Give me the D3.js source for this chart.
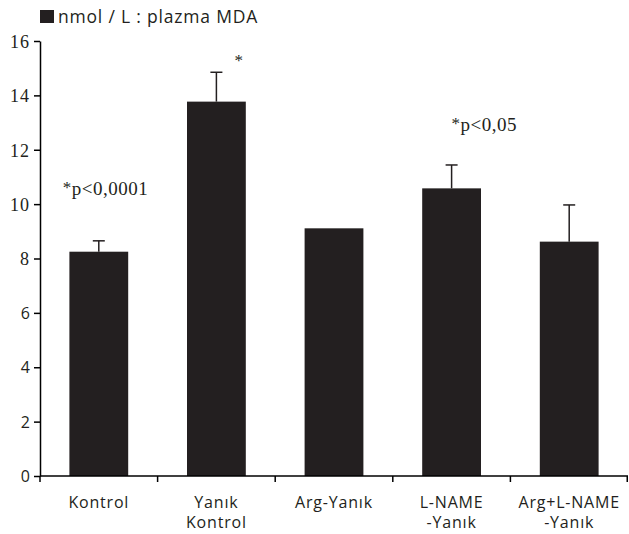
<!DOCTYPE html>
<html>
<head>
<meta charset="utf-8">
<script src="https://cdn.jsdelivr.net/npm/d3@7"></script>
<style>
  body { margin: 0; background: #fff; }
  .sans { font-family: "Open Sans", "Lato", sans-serif; }
  .serif { font-family: "Liberation Serif", "DejaVu Serif", serif; }
</style>
</head>
<body>
<div class="vis-barchart"></div>
<script>
// data
const categories = [["Kontrol"], ["Yanık", "Kontrol"], ["Arg-Yanık"], ["L-NAME", "-Yanık"], ["Arg+L-NAME", "-Yanık"]];
const values = [8.25, 13.77, 9.11, 10.58, 8.62];
const errors = [0.40, 1.08, 0, 0.86, 1.35];
const yTicks = [0, 2, 4, 6, 8, 10, 12, 14, 16];
const notes = [
  {cat: 0, value: 10.35, text: "p<0,0001", dx: -36},
  {cat: 1, value: 15.0, text: "", dx: 18},
  {cat: 3, value: 12.7, text: "p<0,05", dx: 0}
];

const width = 629, height = 534;
const margin = {top: 41, right: 1, bottom: 58, left: 40};
const innerWidth = width - margin.left - margin.right;
const innerHeight = height - margin.top - margin.bottom;
const barColor = "#231f20";

const svg = d3.select('.vis-barchart').append('svg')
  .attr('width', width)
  .attr('height', height);

const graph = svg.append('g')
  .attr('transform', `translate(${margin.left}, ${margin.top})`);

const yScale = d3.scaleLinear()
  .domain([0, 16])
  .range([innerHeight, 0]);

const xScale = d3.scaleBand()
  .domain(d3.range(categories.length))
  .range([0, innerWidth])
  .padding(0);

const barW = xScale.bandwidth() * 0.5;
const cx = i => xScale(i) + xScale.bandwidth() / 2;

// bars
graph.selectAll('rect.bar')
  .data(values)
  .enter().append('rect')
  .attr('class', 'bar')
  .attr('x', (d, i) => cx(i) - barW / 2)
  .attr('width', barW)
  .attr('y', d => yScale(d))
  .attr('height', d => innerHeight - yScale(d))
  .attr('fill', barColor);

// error bars (upper only)
const errG = graph.append('g').attr('stroke', barColor).attr('stroke-width', 1.5);
values.forEach((v, i) => {
  if (!errors[i]) return;
  errG.append('line')
    .attr('x1', cx(i)).attr('x2', cx(i))
    .attr('y1', yScale(v)).attr('y2', yScale(v + errors[i]));
  errG.append('line')
    .attr('x1', cx(i) - 6).attr('x2', cx(i) + 6)
    .attr('y1', yScale(v + errors[i])).attr('y2', yScale(v + errors[i]));
});

// y axis
const gYAxis = graph.append('g')
  .call(d3.axisLeft(yScale).tickValues(yTicks).tickSize(6).tickPadding(4).tickSizeOuter(0));
gYAxis.select('.domain').attr('stroke', '#000').attr('stroke-width', 1.5);
gYAxis.selectAll('.tick line').attr('stroke-width', 1.5);
gYAxis.selectAll('.tick text')
  .attr('class', d => d >= 8 ? 'serif' : 'sans')
  .attr('text-anchor', 'end')
  .attr('dy', '0.35em')
  .style('font-size', d => d >= 8 ? '18px' : '16px')
  .style('letter-spacing', d => d >= 8 ? '1px' : '0px')
  .attr('fill', '#231f20');

// x axis with ticks on category boundaries
const gXAxis = graph.append('g')
  .attr('transform', `translate(0, ${innerHeight})`);
gXAxis.append('line')
  .attr('x1', 0).attr('x2', innerWidth)
  .attr('y1', 0).attr('y2', 0)
  .attr('stroke', '#000').attr('stroke-width', 1.5);
d3.range(categories.length + 1).forEach(i => {
  const x = i < categories.length ? xScale(i) : innerWidth - 0.75;
  gXAxis.append('line')
    .attr('x1', x).attr('x2', x)
    .attr('y1', 0).attr('y2', 6)
    .attr('stroke', '#000').attr('stroke-width', 1.5);
});
categories.forEach((lines, i) => {
  lines.forEach((l, j) => {
    gXAxis.append('text')
      .attr('class', 'sans')
      .attr('text-anchor', 'middle')
      .attr('fill', '#231f20')
      .style('font-size', '16px')
      .style('letter-spacing', '0.8px')
      .attr('x', cx(i)).attr('y', 32 + j * 20)
      .text(l);
  });
});

// significance notes
notes.forEach(n => {
  const t = graph.append('text')
    .attr('class', 'serif')
    .attr('x', cx(n.cat) + n.dx)
    .attr('y', yScale(n.value))
    .attr('fill', '#231f20')
    .style('font-size', '19px')
    .style('letter-spacing', '0.5px');
  t.append('tspan').attr('dy', -2).style('font-size', '17px').text('*');
  if (n.text) t.append('tspan').attr('dy', 2).text(n.text);
});

// legend / title
svg.append('rect')
  .attr('x', 40).attr('y', 10)
  .attr('width', 14).attr('height', 13)
  .attr('fill', barColor);
svg.append('text')
  .attr('class', 'sans')
  .attr('x', 58).attr('y', 23)
  .attr('fill', '#231f20')
  .style('font-size', '17.5px')
  .style('letter-spacing', '0.8px')
  .text('nmol / L : plazma MDA');
</script>
</body>
</html>
